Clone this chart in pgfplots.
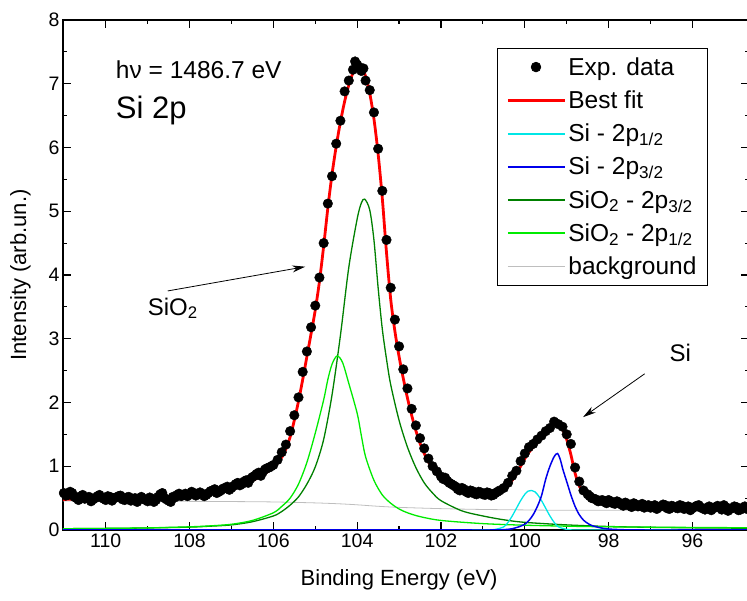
\documentclass[border=0pt]{standalone}
\usepackage{fontspec}
\setmainfont{Liberation Sans}
\usepackage{pgfplots}
\pgfplotsset{compat=1.18}
\usetikzlibrary{calc,arrows.meta}
\definecolor{dgreen}{RGB}{0,128,0}
\definecolor{lgreen}{RGB}{0,235,0}
\definecolor{cyanline}{RGB}{0,230,230}
\definecolor{blueline}{RGB}{0,0,235}
\definecolor{bgline}{RGB}{190,190,190}
\pgfplotsset{lline/.style={legend image code/.code={\draw[##1] (0pt,0pt) -- (57pt,0pt);}}}

\begin{document}
\begin{tikzpicture}
\begin{axis}[
  scale only axis, width=686pt, height=510pt,
  x dir=reverse, xmin=94.65, xmax=111.02, ymin=0, ymax=8,
  xtick={96,98,...,110}, ytick={0,1,...,8},
  minor x tick num=1, minor y tick num=1,
  major tick length=8pt, minor tick length=4pt,
  every tick/.style={black, line width=1.2pt},
  axis line style={line width=1.5pt},
  tick label style={font=\fontsize{19.5}{22}\selectfont},
  /pgf/number format/assume math mode=true,
  label style={font=\fontsize{22}{26}\selectfont},
  xlabel={Binding Energy (eV)}, ylabel={Intensity (arb.un.)},
  xlabel style={at={(axis description cs:0.49,-0.098)}, anchor=center},
  ylabel style={at={(axis description cs:-0.062,0.5)}, anchor=center},
  legend style={at={(axis description cs:0.940,0.945)}, anchor=north east,
    draw=black, line width=0.8pt, font=\fontsize{24.5}{28}\selectfont,
    inner xsep=9pt, inner ysep=7pt, row sep=10pt, cells={anchor=west}},
]
% experimental data
\addplot[forget plot, only marks, mark=*, mark size=4.8pt, black] coordinates {
(111.0,0.58) (110.9,0.55) (110.8,0.58) (110.7,0.50) (110.6,0.53) (110.5,0.49) (110.4,0.52) (110.3,0.48) (110.2,0.53) (110.1,0.51)
(110.0,0.47) (109.9,0.52) (109.8,0.50) (109.7,0.53) (109.6,0.48) (109.5,0.51) (109.4,0.46) (109.3,0.50) (109.2,0.48) (109.1,0.49)
(109.0,0.45) (108.9,0.49) (108.8,0.47) (108.7,0.56) (108.6,0.50) (108.5,0.46) (108.4,0.52) (108.3,0.55) (108.2,0.53) (108.1,0.57)
(108.0,0.56) (107.9,0.58) (107.8,0.56) (107.7,0.57) (107.6,0.55) (107.5,0.61) (107.4,0.64) (107.3,0.60) (107.2,0.65) (107.1,0.68)
(107.0,0.66) (106.9,0.72) (106.8,0.70) (106.7,0.76) (106.6,0.74) (106.5,0.83) (106.4,0.88) (106.3,0.85) (106.2,0.95) (106.1,0.98)
(110.95,0.54) (110.85,0.60) (110.75,0.52) (110.65,0.47) (110.55,0.55) (110.45,0.50) (110.35,0.45) (110.25,0.50) (110.15,0.55) (110.05,0.49)
(109.95,0.53) (109.85,0.46) (109.75,0.51) (109.65,0.54) (109.55,0.47) (109.45,0.52) (109.35,0.49) (109.25,0.44) (109.15,0.52) (109.05,0.47)
(108.95,0.51) (108.85,0.44) (108.75,0.52) (108.65,0.58) (108.55,0.48) (108.45,0.44) (108.35,0.51) (108.25,0.57) (108.15,0.55) (108.05,0.53)
(107.95,0.60) (107.85,0.54) (107.75,0.59) (107.65,0.53) (107.55,0.58) (107.45,0.62) (107.35,0.58) (107.25,0.62) (107.15,0.66) (107.05,0.63)
(106.95,0.69) (106.85,0.74) (106.75,0.72) (106.65,0.78) (106.55,0.80) (106.45,0.85) (106.35,0.90) (106.25,0.91) (106.15,0.97) (106.05,1.00)
(106.0,1.02) (105.9,1.10) (105.8,1.22) (105.7,1.34) (105.6,1.55) (105.5,1.80) (105.4,2.08) (105.3,2.48) (105.2,2.80) (105.1,3.18)
(105.0,3.52) (104.9,3.96) (104.8,4.50) (104.7,5.12) (104.6,5.55) (104.5,6.06) (104.4,6.42) (104.3,6.88) (104.2,7.05) (104.1,7.22)
(104.05,7.35) (104.0,7.30) (103.95,7.26) (103.9,7.20) (103.85,7.24) (103.8,7.05) (103.7,6.90) (103.6,6.55) (103.5,5.98) (103.4,5.32)
(103.3,4.55) (103.2,3.80) (103.1,3.30) (103.0,2.88) (102.9,2.52) (102.8,2.22) (102.7,1.90) (102.6,1.64) (102.5,1.44) (102.4,1.28)
(102.3,1.12) (102.2,1.00) (102.1,0.92) (102.0,0.84) (101.9,0.82) (101.8,0.74) (101.7,0.70) (101.6,0.64) (101.5,0.66) (101.4,0.60)
(101.3,0.62) (101.2,0.57) (101.1,0.60) (101.0,0.56) (100.9,0.59) (100.8,0.54) (100.7,0.58) (100.6,0.62) (100.5,0.66) (100.4,0.74)
(101.95,0.80) (101.85,0.77) (101.75,0.72) (101.65,0.68) (101.55,0.62) (101.45,0.64) (101.35,0.58) (101.25,0.61) (101.15,0.56) (101.05,0.59)
(100.95,0.55) (100.85,0.58) (100.75,0.55) (100.65,0.60)
(100.3,0.85) (100.2,0.93) (100.1,1.08) (100.0,1.20) (99.9,1.30) (99.8,1.35) (99.7,1.42) (99.6,1.48) (99.5,1.55) (99.4,1.60)
(99.3,1.70) (99.2,1.66) (99.1,1.62) (99.0,1.50) (98.9,1.35) (98.8,0.98) (98.7,0.76) (98.6,0.62) (98.5,0.56) (98.4,0.50)
(98.3,0.48) (98.2,0.46) (98.1,0.44) (98.0,0.47) (97.9,0.42) (97.8,0.45) (97.7,0.40) (97.6,0.43) (97.5,0.38) (97.4,0.42)
(97.3,0.37) (97.2,0.41) (97.1,0.38) (97.0,0.35) (96.9,0.39) (96.8,0.36) (96.7,0.40) (96.6,0.34) (96.5,0.38) (96.4,0.35)
(96.3,0.39) (96.2,0.33) (96.1,0.37) (96.0,0.34) (95.9,0.38) (95.8,0.35) (95.7,0.32) (95.6,0.37) (95.5,0.34) (95.4,0.38)
(95.3,0.32) (95.2,0.36) (95.1,0.33) (95.0,0.37) (94.9,0.31) (94.8,0.35) (94.7,0.33)
(98.45,0.53) (98.35,0.49) (98.25,0.45) (98.15,0.47) (98.05,0.42) (97.95,0.45) (97.85,0.41) (97.75,0.43) (97.65,0.38) (97.55,0.41)
(97.45,0.36) (97.35,0.40) (97.25,0.38) (97.15,0.35) (97.05,0.39) (96.95,0.36) (96.85,0.33) (96.75,0.37) (96.65,0.39) (96.55,0.33)
(96.45,0.37) (96.35,0.34) (96.25,0.38) (96.15,0.35) (96.05,0.31) (95.95,0.36) (95.85,0.39) (95.75,0.34) (95.65,0.35) (95.55,0.31)
(95.45,0.36) (95.35,0.35) (95.25,0.39) (95.15,0.30) (95.05,0.34) (94.95,0.36) (94.85,0.32) (94.75,0.37)
};
% background
\addplot[forget plot, bgline, line width=0.8pt, smooth] coordinates {
(111.02,0.455) (109,0.452) (107,0.446) (106,0.44) (105,0.425) (104.4,0.41) (104,0.395) (103.5,0.372) (103,0.355) (102,0.335)
(101,0.322) (100,0.315) (99,0.31) (94.65,0.31)
};
% SiO2 2p3/2
\addplot[forget plot, dgreen, line width=1.3pt, smooth] coordinates {
(111.02,0.02) (110,0.025) (109,0.032) (108,0.045) (107.5,0.06) (107,0.08) (106.5,0.13) (106,0.22) (105.8,0.29) (105.6,0.39)
(105.4,0.52) (105.2,0.72) (105,0.99) (104.8,1.42) (104.6,2.12) (104.4,3.05) (104.2,4.12) (104,4.88) (103.9,5.13) (103.82,5.19)
(103.7,5.02) (103.6,4.55) (103.5,3.80) (103.4,3.15) (103.3,2.68) (103.2,2.28) (103,1.72) (102.8,1.30) (102.6,0.98) (102.4,0.74)
(102.2,0.58) (102,0.46) (101.5,0.30) (101,0.22) (100.5,0.16) (100,0.12) (99,0.08) (98,0.055) (97,0.042) (96,0.034) (94.65,0.028)
};
% SiO2 2p1/2
\addplot[forget plot, lgreen, line width=1.3pt, smooth] coordinates {
(111.02,0.02) (110,0.025) (109,0.033) (108,0.05) (107.5,0.065) (107,0.09) (106.5,0.15) (106,0.27) (105.8,0.37) (105.6,0.50)
(105.4,0.72) (105.2,1.06) (105,1.52) (104.8,2.04) (104.7,2.36) (104.6,2.60) (104.48,2.73) (104.35,2.63) (104.2,2.30) (104.0,1.83)
(103.9,1.48) (103.8,1.15) (103.6,0.78) (103.4,0.55) (103.2,0.42) (103,0.33) (102.8,0.27) (102.5,0.21) (102,0.15) (101,0.10)
(100,0.075) (99,0.06) (98,0.05) (96,0.04) (94.65,0.035)
};
% Si 2p1/2
\addplot[forget plot, cyanline, line width=1.3pt, smooth] coordinates {
(111.02,0) (104,0) (101.5,0) (100.9,0) (100.7,0.01) (100.5,0.05) (100.4,0.12) (100.3,0.22) (100.2,0.34) (100.1,0.46)
(100,0.56) (99.92,0.61) (99.84,0.62) (99.76,0.60) (99.7,0.56) (99.6,0.46) (99.5,0.34) (99.4,0.22) (99.3,0.12) (99.2,0.05)
(99,0.01) (98.8,0) (98,0) (94.65,0)
};
% Si 2p3/2
\addplot[forget plot, blueline, line width=1.5pt, smooth] coordinates {
(111.02,0) (104,0) (101.5,0) (100.8,0) (100.5,0.005) (100.3,0.02) (100.1,0.06) (100,0.09) (99.9,0.15) (99.8,0.24)
(99.7,0.37) (99.6,0.54) (99.5,0.80) (99.4,1.00) (99.3,1.15) (99.22,1.20) (99.15,1.10) (99.1,0.97) (99,0.76) (98.9,0.55)
(98.8,0.37) (98.7,0.24) (98.6,0.155) (98.5,0.105) (98.4,0.07) (98.2,0.035) (98,0.015) (97.6,0.003) (97.2,0) (96,0) (94.65,0)
};
% best fit
\addplot[forget plot, red, line width=2.8pt, smooth] coordinates {
(111.02,0.48) (110.5,0.485) (110.0,0.49) (109.5,0.50) (109.0,0.51) (108.5,0.525) (108.0,0.545) (107.5,0.58) (107.0,0.64) (106.8,0.68)
(106.6,0.74) (106.4,0.81) (106.2,0.89) (106.1,0.93) (106.0,0.98) (105.9,1.05) (105.8,1.14) (105.7,1.27) (105.6,1.46) (105.5,1.72)
(105.4,2.02) (105.3,2.36) (105.2,2.72) (105.1,3.08) (105.0,3.45) (104.9,3.90) (104.8,4.45) (104.7,5.05) (104.6,5.58) (104.5,6.02)
(104.4,6.40) (104.3,6.72) (104.2,6.98) (104.1,7.17) (104.0,7.27) (103.95,7.28) (103.9,7.26) (103.8,7.12) (103.7,6.85) (103.6,6.45)
(103.5,5.90) (103.4,5.20) (103.3,4.35) (103.2,3.62) (103.1,3.12) (103.0,2.72) (102.9,2.38) (102.8,2.07) (102.7,1.80) (102.6,1.56)
(102.5,1.36) (102.4,1.20) (102.3,1.07) (102.2,0.97) (102.1,0.89) (102.0,0.83) (101.9,0.78) (101.8,0.73) (101.7,0.69) (101.6,0.66)
(101.5,0.63) (101.4,0.61) (101.3,0.60) (101.2,0.59) (101.1,0.58) (101.0,0.575) (100.9,0.57) (100.8,0.565) (100.7,0.567) (100.6,0.58)
(100.5,0.62) (100.4,0.69) (100.3,0.78) (100.2,0.88) (100.1,1.00) (100.0,1.12) (99.9,1.22) (99.8,1.30) (99.7,1.37) (99.6,1.44)
(99.5,1.52) (99.4,1.60) (99.3,1.66) (99.25,1.68) (99.2,1.67) (99.1,1.58) (99.0,1.42) (98.9,1.18) (98.8,0.89) (98.7,0.69)
(98.6,0.58) (98.5,0.52) (98.4,0.49) (98.3,0.47) (98.2,0.455) (98.1,0.445) (98.0,0.435) (97.5,0.395) (97.0,0.37) (96.5,0.355)
(96.0,0.345) (95.5,0.335) (95.0,0.325) (94.65,0.32)
};
% legend
\addlegendimage{legend image code/.code={\fill[black] (28pt,0pt) circle (4.8pt);}}
\addlegendentry{Exp. data}
\addlegendimage{lline, red, line width=2.8pt}
\addlegendentry{Best fit}
\addlegendimage{lline, cyanline, line width=2pt}
\addlegendentry{Si - 2p\textsubscript{1/2}}
\addlegendimage{lline, blueline, line width=2pt}
\addlegendentry{Si - 2p\textsubscript{3/2}}
\addlegendimage{lline, dgreen, line width=2pt}
\addlegendentry{SiO\textsubscript{2} - 2p\textsubscript{3/2}}
\addlegendimage{lline, lgreen, line width=2pt}
\addlegendentry{SiO\textsubscript{2} - 2p\textsubscript{1/2}}
\addlegendimage{lline, bgline, line width=1.2pt}
\addlegendentry{background}
% annotations
\node[anchor=base west, font=\fontsize{24.5}{28}\selectfont, inner sep=0pt] at (axis cs:109.76,7.09) {hν = 1486.7 eV};
\node[anchor=base west, font=\fontsize{31}{36}\selectfont, inner sep=0pt] at (axis cs:109.76,6.46) {Si 2p};
\node[anchor=base west, font=\fontsize{24}{28}\selectfont, inner sep=0pt] at (axis cs:109.0,3.37) {SiO\textsubscript{2}};
\node[anchor=base west, font=\fontsize{24}{28}\selectfont, inner sep=0pt] at (axis cs:96.55,2.65) {Si};
\draw[line width=0.8pt, -{Stealth[length=13pt,width=7pt]}] (axis cs:108.52,3.75) -- (axis cs:105.24,4.13);
\draw[line width=0.8pt, -{Stealth[length=13pt,width=7pt]}] (axis cs:97.14,2.45) -- (axis cs:98.61,1.77);
\end{axis}
\pgfresetboundingbox
\useasboundingbox ($(current axis.south west)+(-63pt,-71pt)$) rectangle ($(current axis.south west)+(684pt,530pt)$);
\end{tikzpicture}
\end{document}
